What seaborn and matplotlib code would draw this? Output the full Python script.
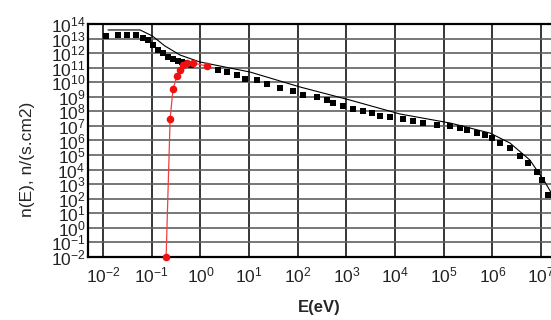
import numpy as np
import pandas as pd
import matplotlib
matplotlib.use("Agg")
import matplotlib.pyplot as plt
import seaborn as sns
from matplotlib.ticker import LogLocator, FixedLocator, NullFormatter

# measured spectrum (black squares): log10(E), log10(n)
sq_logE = [-1.94, -1.69, -1.51, -1.32, -1.18, -1.08, -0.97, -0.87, -0.77, -0.67,
           -0.56, -0.46, -0.38, -0.30, -0.20, 0.36, 0.55, 0.75, 0.92, 1.16, 1.37,
           1.63, 1.90, 2.11, 2.39, 2.60, 2.72, 2.93, 3.13, 3.34, 3.52, 3.69, 3.89,
           4.16, 4.37, 4.57, 4.86, 5.13, 5.33, 5.47, 5.68, 5.84, 5.99, 6.15, 6.36,
           6.56, 6.73, 6.91, 7.01, 7.14]
sq_logN = [13.18, 13.24, 13.24, 13.24, 13.04, 12.90, 12.56, 12.21, 12.01, 11.73,
           11.60, 11.46, 11.39, 11.30, 11.20, 10.84, 10.70, 10.50, 10.22, 10.15, 9.88,
           9.60, 9.40, 9.12, 8.99, 8.78, 8.57, 8.37, 8.16, 8.02, 7.89, 7.68, 7.61,
           7.48, 7.34, 7.20, 7.06, 6.99, 6.86, 6.72, 6.51, 6.38, 6.17, 5.83, 5.48,
           4.93, 4.45, 3.84, 3.29, 2.26]

# model curve (thin line)
ln_logE = [-1.90, -1.24, -0.99, -0.73, -0.42, -0.01, 1.02, 2.05, 3.07, 4.10,
           5.13, 5.95, 6.36, 6.77, 7.08, 7.20]
ln_logN = [13.59, 13.59, 13.18, 12.49, 11.87, 11.39, 10.70, 9.67, 8.78, 7.82,
           7.20, 6.51, 5.83, 4.66, 3.15, 2.46]

# thermal part (red circles)
red_E = [0.197, 0.238, 0.273, 0.33, 0.38, 0.44, 0.53, 0.70, 1.36]
red_N = [0.01, 3e7, 3.5e9, 2.7e10, 7e10, 1.5e11, 2.1e11, 2.1e11, 1.3e11]

x_exps = list(range(-2, 8))
y_exps = list(range(-2, 15))

sq = pd.DataFrame({"E": 10.0 ** np.array(sq_logE), "n": 10.0 ** np.array(sq_logN)})
ln = pd.DataFrame({"E": 10.0 ** np.array(ln_logE), "n": 10.0 ** np.array(ln_logN)})
rd = pd.DataFrame({"E": red_E, "n": red_N})

sns.set_style("white")
plt.rcParams["font.family"] = ["Liberation Sans", "DejaVu Sans"]
plt.rcParams["mathtext.fontset"] = "custom"
plt.rcParams["mathtext.rm"] = "Liberation Sans"
plt.rcParams["mathtext.it"] = "Liberation Sans:italic"
plt.rcParams["mathtext.bf"] = "Liberation Sans:bold"
plt.rcParams["mathtext.default"] = "regular"

fig = plt.figure(figsize=(5.51, 3.20), dpi=100)
ax = fig.add_axes([0.160, 0.197, 0.840, 0.728])
ax.set_xscale("log")
ax.set_yscale("log")
ax.set_xlim(10 ** -2.308, 10 ** 7.205)
ax.set_ylim(1e-2, 1e14)

ax.grid(False)
for k in x_exps:
    ax.axvline(10.0 ** k, color="black", lw=1.1, zorder=1)
for k in y_exps[1:-1]:
    ax.axhline(10.0 ** k, color="#606060", lw=1.2, zorder=1)

sns.lineplot(data=ln, x="E", y="n", sort=False, color="black", lw=0.8, ax=ax, zorder=3)
sns.scatterplot(data=sq, x="E", y="n", marker="s", color="black", s=24,
                edgecolor="black", linewidth=0, ax=ax, zorder=4)
sns.lineplot(data=rd, x="E", y="n", sort=False, color="#f04040", lw=0.9, ax=ax, zorder=5)
sns.scatterplot(data=rd, x="E", y="n", marker="o", color="#ee1111", s=30,
                edgecolor="#ee1111", linewidth=0, ax=ax, zorder=6, clip_on=False)

ax.xaxis.set_major_locator(FixedLocator([10.0 ** k for k in x_exps]))
ax.xaxis.set_minor_locator(LogLocator(base=10, subs=np.arange(2, 10), numticks=30))
ax.xaxis.set_minor_formatter(NullFormatter())
ax.yaxis.set_major_locator(FixedLocator([10.0 ** k for k in y_exps]))
ax.yaxis.set_minor_locator(LogLocator(base=10, subs=np.arange(2, 10), numticks=40))
ax.yaxis.set_minor_formatter(NullFormatter())

ax.set_xticklabels([f"$10^{{{k}}}$" for k in x_exps])
ax.set_yticklabels([f"$10^{{{k}}}$" for k in y_exps])

ax.tick_params(axis="both", which="major", direction="in", length=5, width=1.5,
               labelsize=12.5, colors="black", labelcolor="#222222")
ax.tick_params(axis="both", which="minor", direction="in", length=3, width=1.0,
               colors="black")
ax.tick_params(axis="x", which="major", pad=6)
ax.tick_params(axis="y", which="major", pad=2)

for s in ax.spines.values():
    s.set_color("black")
    s.set_linewidth(1.6)
ax.spines["right"].set_visible(False)

ax.set_xlabel("E(eV)", fontsize=12, fontweight="bold", labelpad=11)
ax.set_ylabel("n(E), n/(s.cm2)", fontsize=12.5)
ax.yaxis.set_label_coords(-0.115, 0.42)

fig.savefig("out.png", dpi=100)
